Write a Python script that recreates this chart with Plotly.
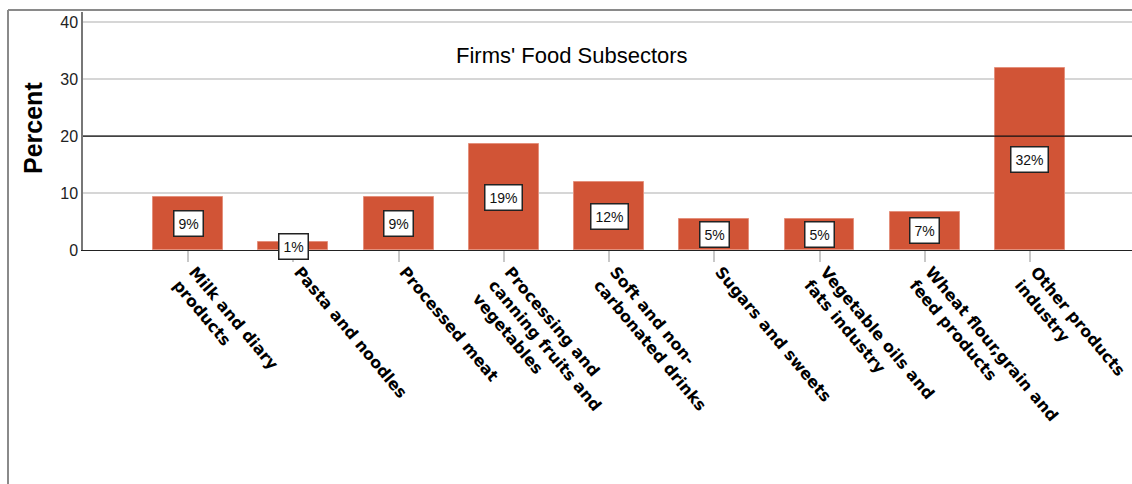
import plotly.graph_objects as go

categories = [
    "Milk and diary<br>products",
    "Pasta and noodles",
    "Processed meat",
    "Processing and<br>canning fruits and<br>vegetables",
    "Soft and non-<br>carbonated drinks",
    "Sugars and sweets",
    "Vegetable oils and<br>fats industry",
    "Wheat flour,grain and<br>feed products",
    "Other products<br>industry",
]
percent = [9.3, 1.4, 9.3, 18.6, 11.9, 5.4, 5.4, 6.7, 31.9]
y_ticks = [0, 10, 20, 30, 40]

W, H = 1132, 484
L, T, B = 83, 12, 234
plot_w = W - L
plot_h = H - T - B

idx = list(range(len(categories)))

fig = go.Figure()
fig.add_trace(go.Bar(
    x=idx, y=percent, width=0.665,
    marker=dict(color="#D15436", line=dict(color="#E4907C", width=1)),
    hoverinfo="skip",
))

annotations = []
for i, v in enumerate(percent):
    annotations.append(dict(
        x=i, y=v / 2, xref="x", yref="y",
        text=f"{round(v):d}%", showarrow=False,
        font=dict(family="Liberation Sans, Arial", size=14, color="#111"),
        bgcolor="white", bordercolor="#222", borderwidth=1.5, borderpad=4,
    ))

# chart title
annotations.append(dict(
    x=(572 - L) / plot_w, y=(250 - 55) / plot_h, xref="paper", yref="paper",
    xanchor="center", yanchor="middle",
    text="Firms' Food Subsectors", showarrow=False,
    font=dict(family="Liberation Sans, Arial", size=22, color="#000"),
))
# y axis title
annotations.append(dict(
    x=(32.5 - L) / plot_w, y=(250 - 128.5) / plot_h, xref="paper", yref="paper",
    xanchor="center", yanchor="middle",
    text="<b>Percent</b>", showarrow=False, textangle=-90,
    font=dict(family="Liberation Sans, Arial", size=25, color="#000"),
))

shapes = [
    # reference line at 20
    dict(type="line", xref="paper", yref="y", x0=0, x1=1, y0=20, y1=20,
         line=dict(color="#111", width=1.2)),
    # outer frame
    dict(type="line", xref="paper", yref="paper",
         x0=(8 - L) / plot_w, x1=1.01, y0=(250 - 10) / plot_h, y1=(250 - 10) / plot_h,
         line=dict(color="#8a8a8a", width=2)),
    dict(type="line", xref="paper", yref="paper",
         x0=(8 - L) / plot_w, x1=(8 - L) / plot_w, y0=(250 - 10) / plot_h, y1=-1.1,
         line=dict(color="#8a8a8a", width=2)),
]

fig.update_layout(
    width=W, height=H,
    margin=dict(l=L, r=0, t=T, b=B, autoexpand=False),
    paper_bgcolor="white", plot_bgcolor="white",
    showlegend=False,
    annotations=annotations, shapes=shapes,
    bargap=0,
    xaxis=dict(
        range=[-1, 8.97], tickmode="array", tickvals=idx, ticktext=categories,
        tickangle=50, ticks="outside", ticklen=11, tickcolor="#c8c8c8", tickwidth=2,
        ticklabelshift=6, ticklabelstandoff=-6, ticklabeloverflow="allow",
        showline=True, linecolor="#222", linewidth=1.2, showgrid=False, zeroline=False,
        tickfont=dict(family="DejaVu Sans", size=16, color="#000", weight="bold"),
    ),
    yaxis=dict(
        range=[0, 41.8], tickmode="array", tickvals=y_ticks,
        showline=True, linecolor="#777", linewidth=1.5,
        showgrid=True, gridcolor="#d6d6d6", gridwidth=2, zeroline=False,
        ticks="", tickfont=dict(family="Liberation Sans, Arial", size=16, color="#222"),
    ),
)

fig.write_html("out.html")
